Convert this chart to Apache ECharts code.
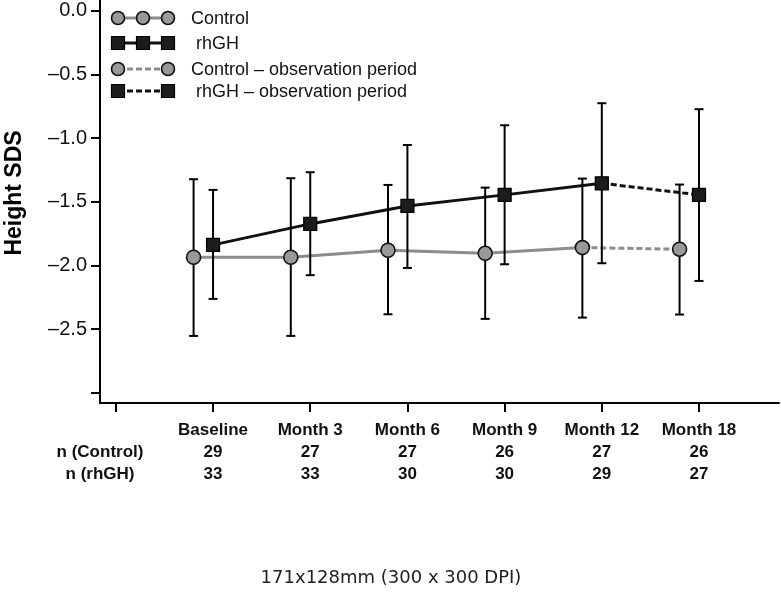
<!DOCTYPE html>
<html>
<head>
<meta charset="utf-8">
<script src="https://cdn.jsdelivr.net/npm/echarts@6/dist/echarts.min.js"></script>
<style>html,body{margin:0;padding:0;background:#fff}#c{width:781px;height:597px}</style>
</head>
<body>
<div id="c"></div>
<script>
// ---- data ----
var categories = ['Baseline', 'Month 3', 'Month 6', 'Month 9', 'Month 12', 'Month 18'];
var timeIndex = [0, 1, 2, 3, 4, 5];
var nControl = [29, 27, 27, 26, 27, 26];
var nRhgh = [33, 33, 30, 30, 29, 27];
var controlMean  = [-1.935, -1.935, -1.880, -1.904, -1.859, -1.872];
var controlUpper = [-1.322, -1.314, -1.367, -1.388, -1.317, -1.364];
var controlLower = [-2.553, -2.553, -2.383, -2.419, -2.409, -2.385];
var rhghMean  = [-1.838, -1.673, -1.532, -1.445, -1.354, -1.445];
var rhghUpper = [-1.406, -1.267, -1.053, -0.898, -0.725, -0.772];
var rhghLower = [-2.262, -2.076, -2.019, -1.990, -1.982, -2.121];
var yTicks = [0, -0.5, -1.0, -1.5, -2.0, -2.5, -3.0];
var yLabelTicks = [0, -0.5, -1.0, -1.5, -2.0, -2.5];
var xTicks = [-1, 0, 1, 2, 3, 4, 5];
var obsStart = 4; // index where observation period begins (Month 12 -> Month 18)

// ---- build ----
var CONTROL_SHIFT = -0.2;
var GRAY = '#8c8c8c';
var FONT = 'Liberation Sans, Arial, Helvetica, sans-serif';

function pts(xs, ys, shift, from, to) {
  var out = [];
  for (var i = from; i <= to; i++) out.push([xs[i] + shift, ys[i]]);
  return out;
}
function bars(xs, lo, hi, shift) {
  return xs.map(function (x, i) { return [x + shift, lo[i], hi[i]]; });
}
var last = timeIndex.length - 1;

function errRender(params, api) {
  var x = api.value(0);
  var lo = api.coord([x, api.value(1)]);
  var hi = api.coord([x, api.value(2)]);
  var cap = 4.5;
  var st = { stroke: '#000', lineWidth: 2 };
  return {
    type: 'group',
    children: [
      { type: 'line', shape: { x1: lo[0], y1: lo[1], x2: hi[0], y2: hi[1] }, style: st },
      { type: 'line', shape: { x1: hi[0] - cap, y1: hi[1], x2: hi[0] + cap, y2: hi[1] }, style: st },
      { type: 'line', shape: { x1: lo[0] - cap, y1: lo[1], x2: lo[0] + cap, y2: lo[1] }, style: st }
    ]
  };
}

// legend graphics
function legendRow(y, marker, color, fill, dashed, n, label, textX) {
  var xs = n === 3 ? [118, 143, 168] : [118, 168];
  var children = [{
    type: 'line', shape: { x1: 118, y1: y, x2: 168, y2: y },
    style: { stroke: color, lineWidth: 3, lineDash: dashed ? [6, 3] : null }
  }];
  xs.forEach(function (x) {
    if (marker === 'circle') {
      children.push({ type: 'circle', shape: { cx: x, cy: y, r: 6.5 }, style: { fill: fill, stroke: '#111', lineWidth: 1.6 } });
    } else {
      children.push({ type: 'rect', shape: { x: x - 6.5, y: y - 6.5, width: 13, height: 13 }, style: { fill: fill, stroke: '#000', lineWidth: 1.2 } });
    }
  });
  children.push({
    type: 'text', x: textX, y: y + 1,
    style: { text: label, font: '18px ' + FONT, fill: '#111', textVerticalAlign: 'middle', textAlign: 'left' }
  });
  return { type: 'group', children: children };
}

var chart = echarts.init(document.getElementById('c'), null, { renderer: 'canvas' });
chart.setOption({
  animation: false,
  backgroundColor: '#fff',
  grid: { left: 100, right: 2, top: 0, bottom: 194, containLabel: false },
  xAxis: {
    type: 'value', min: -1.163, max: 5.823,
    splitLine: { show: false },
    axisLine: { show: true, onZero: false, lineStyle: { color: '#000', width: 2 } },
    axisTick: { show: true, length: 9, lineStyle: { color: '#000', width: 2 }, customValues: xTicks },
    axisLabel: {
      show: true, customValues: timeIndex, margin: 16,
      formatter: function (v) {
        var i = Math.round(v);
        return categories[i] + '\n' + nControl[i] + '\n' + nRhgh[i];
      },
      fontFamily: FONT, fontWeight: 'bold', fontSize: 17, lineHeight: 22, color: '#111'
    }
  },
  yAxis: {
    type: 'value', min: -3.08, max: 0.086,
    splitLine: { show: false },
    axisLine: { show: true, onZero: false, lineStyle: { color: '#000', width: 2 } },
    axisTick: { show: true, length: 9, lineStyle: { color: '#000', width: 2 }, customValues: yTicks },
    axisLabel: {
      show: true, customValues: yLabelTicks, margin: 13,
      formatter: function (v) { return v.toFixed(1).replace('-', '\u2013'); },
      fontFamily: FONT, fontSize: 20, color: '#111'
    }
  },
  graphic: [
    { type: 'text', x: 15, y: 193, rotation: Math.PI / 2,
      style: { text: 'Height SDS', font: 'bold 23px ' + FONT, fill: '#000', textAlign: 'center', textVerticalAlign: 'middle' } },
    { type: 'text', x: 100, y: 452,
      style: { text: 'n (Control)', font: 'bold 17px ' + FONT, fill: '#111', textAlign: 'center', textVerticalAlign: 'middle' } },
    { type: 'text', x: 100, y: 474,
      style: { text: 'n (rhGH)', font: 'bold 17px ' + FONT, fill: '#111', textAlign: 'center', textVerticalAlign: 'middle' } },
    { type: 'text', x: 391, y: 578,
      style: { text: '171x128mm (300 x 300 DPI)', font: '18px DejaVu Sans, Verdana, sans-serif', fill: '#222', textAlign: 'center', textVerticalAlign: 'middle' } },
    legendRow(18, 'circle', GRAY, '#999', false, 3, 'Control', 191),
    legendRow(43, 'rect', '#111', '#1c1c1c', false, 3, ' rhGH', 191),
    legendRow(69, 'circle', GRAY, '#999', true, 2, 'Control \u2013 observation period', 191),
    legendRow(91, 'rect', '#111', '#1c1c1c', true, 2, ' rhGH \u2013 observation period', 191)
  ],
  series: [
    { name: 'Control', type: 'line', z: 1, symbol: 'none', data: pts(timeIndex, controlMean, CONTROL_SHIFT, 0, obsStart),
      lineStyle: { color: GRAY, width: 3 } },
    { name: 'Control obs', type: 'line', z: 1, symbol: 'none', data: pts(timeIndex, controlMean, CONTROL_SHIFT, obsStart, last),
      lineStyle: { color: GRAY, width: 3, type: [6, 3] } },
    { name: 'rhGH', type: 'line', z: 1, symbol: 'none', data: pts(timeIndex, rhghMean, 0, 0, obsStart),
      lineStyle: { color: '#111', width: 3 } },
    { name: 'rhGH obs', type: 'line', z: 1, symbol: 'none', data: pts(timeIndex, rhghMean, 0, obsStart, last),
      lineStyle: { color: '#111', width: 3, type: [6, 3] } },
    { name: 'Control SD', type: 'custom', z: 2, renderItem: errRender, encode: { x: 0, y: [1, 2] },
      data: bars(timeIndex, controlLower, controlUpper, CONTROL_SHIFT) },
    { name: 'rhGH SD', type: 'custom', z: 2, renderItem: errRender, encode: { x: 0, y: [1, 2] },
      data: bars(timeIndex, rhghLower, rhghUpper, 0) },
    { name: 'Control pts', type: 'scatter', z: 3, symbol: 'circle', symbolSize: 14,
      itemStyle: { color: '#999', borderColor: '#111', borderWidth: 1.6, opacity: 1 },
      data: pts(timeIndex, controlMean, CONTROL_SHIFT, 0, last) },
    { name: 'rhGH pts', type: 'scatter', z: 3, symbol: 'rect', symbolSize: 13,
      itemStyle: { color: '#1c1c1c', borderColor: '#000', borderWidth: 1.2, opacity: 1 },
      data: pts(timeIndex, rhghMean, 0, 0, last) }
  ]
});
</script>
</body>
</html>
